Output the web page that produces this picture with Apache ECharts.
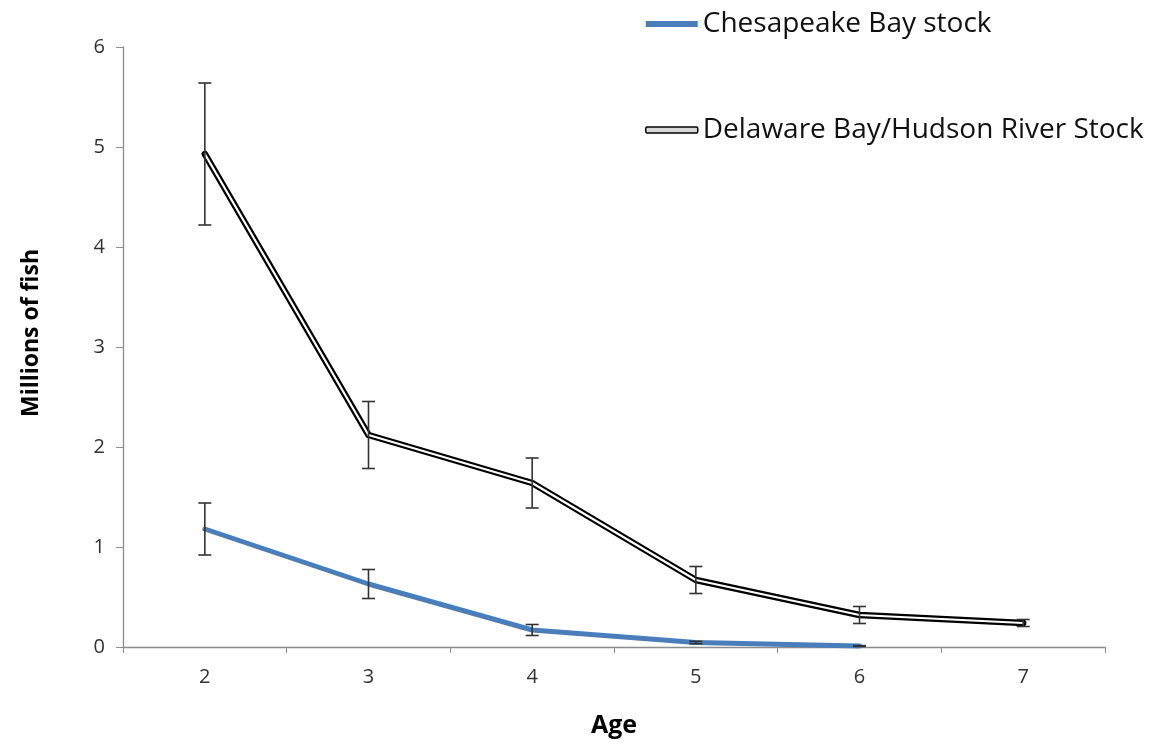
<!DOCTYPE html>
<html>
<head>
<meta charset="utf-8">
<script src="https://cdn.jsdelivr.net/npm/echarts@6/dist/echarts.min.js"></script>
<style>html,body{margin:0;padding:0;background:#fff;}#c{width:1155px;height:745px;}</style>
</head>
<body>
<div id="c"></div>
<script>
const ages = ['2', '3', '4', '5', '6', '7'];
const yTicks = [0, 1, 2, 3, 4, 5, 6];
const chesName = 'Chesapeake Bay stock';
const delName = 'Delaware Bay/Hudson River Stock';
const chesMean = [1.18, 0.63, 0.17, 0.045, 0.01];
const chesErr = [0.26, 0.145, 0.055, 0.012, 0.004];
const delMean = [4.93, 2.12, 1.64, 0.67, 0.32, 0.24];
const delErr = [0.71, 0.335, 0.25, 0.135, 0.085, 0.035];

function errData(mean, err) {
  return mean.map((m, i) => [i, m, err[i]]);
}
function errRender(params, api) {
  const x = api.value(0), m = api.value(1), e = api.value(2);
  const top = api.coord([x, m + e]);
  const bot = api.coord([x, m - e]);
  const hw = 6.5;
  const st = { stroke: '#333', lineWidth: 1.6 };
  return {
    type: 'group',
    children: [
      { type: 'line', shape: { x1: top[0], y1: top[1], x2: bot[0], y2: bot[1] }, style: st },
      { type: 'line', shape: { x1: top[0] - hw, y1: top[1], x2: top[0] + hw, y2: top[1] }, style: st },
      { type: 'line', shape: { x1: bot[0] - hw, y1: bot[1], x2: bot[0] + hw, y2: bot[1] }, style: st }
    ]
  };
}

const chart = echarts.init(document.getElementById('c'), null, { renderer: 'canvas' });
const font = 'Open Sans, Liberation Sans, Arial, sans-serif';
chart.setOption({
  animation: false,
  backgroundColor: '#fff',
  textStyle: { fontFamily: font },
  grid: { left: 123, right: 50, top: 47, bottom: 98 },
  legend: {
    orient: 'vertical',
    left: 640,
    top: 5,
    itemGap: 78,
    itemWidth: 52,
    itemHeight: 6,
    textStyle: { fontSize: 28, color: '#111', fontFamily: font, padding: [0, 0, 0, 0] },
    data: [
      { name: chesName, icon: 'rect', itemStyle: { color: '#4a7ebb', borderWidth: 0 } },
      { name: delName, icon: 'roundRect', itemStyle: { color: '#d8d8d8', borderColor: '#000', borderWidth: 1.5 } }
    ]
  },
  xAxis: {
    type: 'category',
    data: ages,
    boundaryGap: true,
    name: 'Age',
    nameLocation: 'middle',
    nameGap: 66,
    nameTextStyle: { fontSize: 25, fontWeight: 'bold', color: '#000', fontFamily: font },
    axisLine: { lineStyle: { color: '#8c8c8c', width: 1.3 } },
    axisTick: { show: true, length: 6, inside: false, lineStyle: { color: '#8c8c8c' } },
    axisLabel: { fontSize: 20, color: '#333', margin: 20 },
    splitLine: { show: false }
  },
  yAxis: {
    type: 'value',
    min: yTicks[0],
    max: yTicks[yTicks.length - 1],
    interval: 1,
    name: 'Millions of fish',
    nameLocation: 'middle',
    nameGap: 80,
    nameRotate: 90,
    nameTextStyle: { fontSize: 23, fontWeight: 'bold', color: '#000', fontFamily: font, padding: [0, 0, 0, 28] },
    axisLine: { show: true, lineStyle: { color: '#8c8c8c', width: 1.3 } },
    axisTick: { show: true, length: 7, lineStyle: { color: '#8c8c8c' } },
    axisLabel: { fontSize: 20, color: '#333', margin: 18 },
    splitLine: { show: false }
  },
  series: [
    {
      name: chesName,
      type: 'line',
      data: chesMean,
      symbol: 'none',
      lineStyle: { color: '#4a7ebb', width: 5, cap: 'round', join: 'round' },
      itemStyle: { color: '#4a7ebb' },
      z: 3
    },
    {
      name: delName,
      type: 'line',
      data: delMean,
      symbol: 'none',
      lineStyle: { color: '#000', width: 6.5, cap: 'round', join: 'round' },
      itemStyle: { color: '#d8d8d8', borderColor: '#000' },
      z: 3
    },
    {
      name: 'delInner',
      type: 'line',
      data: delMean,
      symbol: 'none',
      lineStyle: { color: '#fff', width: 2.2, cap: 'round', join: 'round' },
      z: 4,
      silent: true
    },
    {
      name: 'chesErr',
      type: 'custom',
      data: errData(chesMean, chesErr),
      renderItem: errRender,
      z: 5,
      silent: true
    },
    {
      name: 'delErr',
      type: 'custom',
      data: errData(delMean, delErr),
      renderItem: errRender,
      z: 5,
      silent: true
    }
  ]
});
</script>
</body>
</html>
